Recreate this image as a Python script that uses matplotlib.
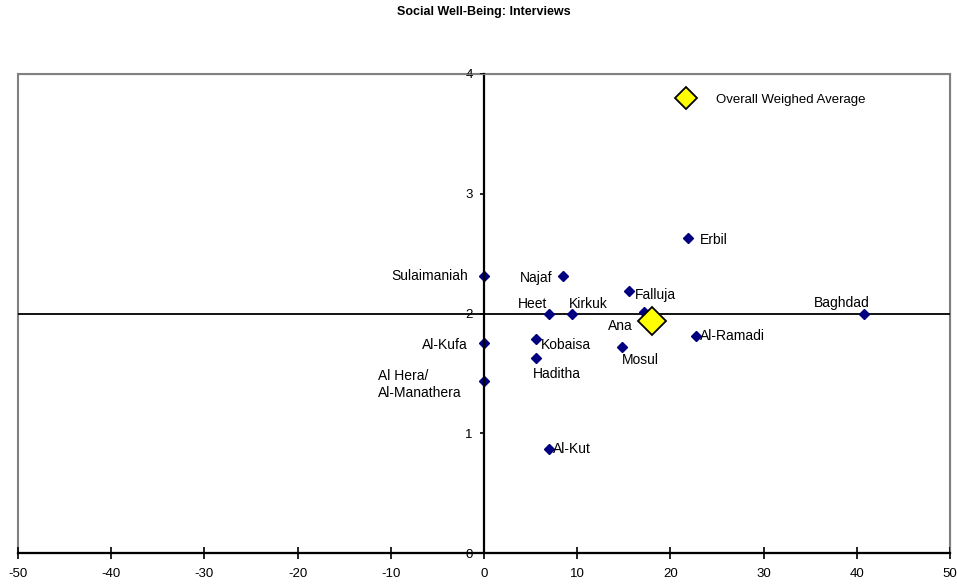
import matplotlib.pyplot as plt
from matplotlib.patches import Rectangle

plt.rcParams['font.family'] = ['Liberation Sans', 'DejaVu Sans']
plt.rcParams['axes.unicode_minus'] = False

# city scores
cities = ["Sulaimaniah", "Najaf", "Falluja", "Heet", "Kirkuk", "Ana", "Al-Ramadi",
          "Kobaisa", "Mosul", "Haditha", "Al-Kufa", "Al Hera/\nAl-Manathera",
          "Al-Kut", "Erbil", "Baghdad"]
xvals = [0, 8.5, 15.6, 7.0, 9.4, 17.2, 22.7, 5.6, 14.8, 5.6, 0, 0, 7.0, 21.9, 40.8]
yvals = [2.31, 2.31, 2.19, 2.0, 2.0, 2.01, 1.81, 1.79, 1.72, 1.63, 1.75, 1.44, 0.87, 2.63, 2.0]

# label offsets in pixels, alignment
offsets = [(-16, 0, 'right'), (-11, -2, 'right'), (5, -4, 'left'), (-2, 10, 'right'),
           (-3, 10, 'left'), (-12, -14, 'right'), (4, 0, 'left'), (5, -6, 'left'),
           (0, -13, 'left'), (-3, -16, 'left'), (-16, -2, 'right'), (-22, -4, 'right'),
           (4, 0, 'left'), (12, -2, 'left'), (5, 11, 'right')]

avg_x = 18.0
avg_y = 1.94

fig = plt.figure(figsize=(9.57, 5.85), dpi=100)
ax = fig.add_axes([18/957, 32/585, 932/957, 479/585])

ax.plot(xvals, yvals, 'D', color='#000080', markersize=5, linestyle='none')
ax.plot([avg_x], [avg_y], 'D', color='#ffff00', markeredgecolor='black',
        markeredgewidth=1.3, markersize=14, linestyle='none', label='Overall Weighed Average')

for name, x, y, (dx, dy, ha) in zip(cities, xvals, yvals, offsets):
    ax.annotate(name, (x, y), xytext=(dx, dy), textcoords='offset pixels',
                ha=ha, va='center', fontsize=10, multialignment='left', linespacing=1.35)

ax.axhline(2, color='black', linewidth=1.3, zorder=1)

ax.set_xlim(-50, 50)
ax.set_ylim(0, 4)
ax.set_xticks(range(-50, 51, 10))
ax.set_yticks(range(0, 5))

ax.spines['left'].set_position(('data', 0))
ax.spines['left'].set_linewidth(1.6)
ax.spines['bottom'].set_linewidth(1.6)
ax.spines['top'].set_color('#808080')
ax.spines['right'].set_color('#808080')
ax.add_patch(Rectangle((0, 0), 1, 1, transform=ax.transAxes, fill=False,
                       edgecolor='#808080', linewidth=1.5, clip_on=False, zorder=0))

ax.tick_params(axis='x', direction='inout', length=8, width=1.2, labelsize=9.5, pad=7)
ax.tick_params(axis='y', direction='out', length=3, width=1.2, labelsize=9.5, pad=5)

ax.legend(loc='center left', bbox_to_anchor=(0.69, 0.947), frameon=False,
          fontsize=9.5, handletextpad=1.3, markerscale=0.8)

fig.text(484/957, 1 - 12/585, "Social Well-Being: Interviews", ha='center', va='center',
         fontsize=9, fontweight='bold')

fig.savefig('out.png', dpi=100)
